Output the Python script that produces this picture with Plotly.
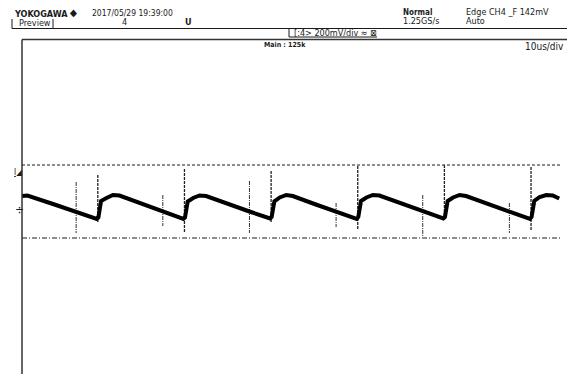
import plotly.graph_objects as go

# ---- data (time in us, voltage in mV) ----
trace_t = [0.0, 0.5, 3.0, 5.0, 6.9, 7.05, 7.3, 7.8, 8.4, 9.0, 11.0, 13.0, 14.9, 15.05, 15.3, 15.8, 16.4, 17.0,
           19.0, 21.0, 22.9, 23.05, 23.3, 23.8, 24.4, 25.0, 27.0, 29.0, 30.9, 31.05, 31.3, 31.8, 32.4, 33.0,
           35.0, 37.0, 38.9, 39.05, 39.3, 39.8, 40.4, 41.0, 43.0, 45.0, 46.9, 47.05, 47.3, 47.8, 48.4, 49.0, 49.6]
trace_v = [56, 58, 22, -8, -36, -30, 36, 48, 60, 58, 26, -6, -36, -30, 34, 48, 58, 56,
           24, -6, -34, -28, 34, 50, 60, 56, 24, -8, -36, -28, 36, 50, 60, 58,
           26, -6, -34, -28, 36, 50, 60, 56, 24, -8, -36, -28, 36, 52, 60, 58, 46]

big_spike_t = [7.0, 15.0, 23.0, 31.0, 39.0, 47.0]
big_spike_top = [140, 164, 156, 176, 180, 172]
big_spike_bot = [-48, -92, -48, -80, -44, -80]

small_spike_t = [5.0, 13.0, 21.0, 29.0, 37.0, 45.0]
small_spike_top = [112, 60, 116, 28, 60, 28]
small_spike_bot = [-92, -64, -92, -68, -108, -92]

upper_cursor = 180
lower_cursor = -112
cursor_t = [0.0, 49.7]

x_range = [0, 50.32]
y_range = [-656, 680]

W, H = 567, 374
ML, MT = 22, 40
PW, PH = W - ML, H - MT

def px(x):
    return (x - ML) / PW

def py(y):
    return (H - y) / PH

FONT = "Liberation Sans Narrow, DejaVu Sans Condensed, Arial Narrow, sans-serif"
INK = "#1a1a1a"

fig = go.Figure()

def spikes(ts, tops, bots):
    xs, ys = [], []
    for t, a, b in zip(ts, tops, bots):
        xs += [t, t, None]
        ys += [a, b, None]
    return xs, ys

# cursors
fig.add_trace(go.Scatter(x=cursor_t, y=[upper_cursor] * 2, mode="lines",
                         line=dict(color=INK, width=1, dash="3px,2px"), hoverinfo="skip"))
fig.add_trace(go.Scatter(x=cursor_t, y=[lower_cursor] * 2, mode="lines",
                         line=dict(color=INK, width=1, dash="5px,2px,1px,2px"), hoverinfo="skip"))

sx, sy = spikes(small_spike_t, small_spike_top, small_spike_bot)
fig.add_trace(go.Scatter(x=sx, y=sy, mode="lines", line=dict(color="#333", width=1, dash="4px,1px,1px,1px"),
                         hoverinfo="skip"))
bx, by = spikes(big_spike_t, big_spike_top, big_spike_bot)
fig.add_trace(go.Scatter(x=bx, y=by, mode="lines", line=dict(color="#222", width=1.3, dash="3px,1px"),
                         hoverinfo="skip"))

fig.add_trace(go.Scatter(x=trace_t, y=trace_v, mode="lines",
                         line=dict(color="#000", width=4), hoverinfo="skip"))

shapes = [
    dict(type="line", xref="paper", yref="paper", x0=px(12), x1=px(567), y0=py(28.5), y1=py(28.5),
         line=dict(color=INK, width=1)),
    dict(type="line", xref="paper", yref="paper", x0=px(12), x1=px(12), y0=py(19), y1=py(28.5),
         line=dict(color=INK, width=1)),
    dict(type="line", xref="paper", yref="paper", x0=px(53), x1=px(53), y0=py(19), y1=py(28.5),
         line=dict(color=INK, width=1)),
    dict(type="line", xref="paper", yref="paper", x0=px(289), x1=px(289), y0=py(28.5), y1=py(37),
         line=dict(color=INK, width=1)),
    dict(type="line", xref="paper", yref="paper", x0=px(289), x1=px(377), y0=py(37), y1=py(37),
         line=dict(color=INK, width=1)),
    dict(type="line", xref="paper", yref="paper", x0=px(22), x1=px(567), y0=py(39.5), y1=py(39.5),
         line=dict(color="#333", width=1.5)),
    dict(type="line", xref="paper", yref="paper", x0=px(22), x1=px(22), y0=py(39.5), y1=py(374),
         line=dict(color="#333", width=1.5)),
]

def ann(text, x, y, size=9, anchor="left", bold=False):
    if bold:
        text = "<b>" + text + "</b>"
    return dict(text=text, x=px(x), y=py(y), xref="paper", yref="paper", showarrow=False,
                xanchor=anchor, yanchor="middle", font=dict(family=FONT, size=size, color=INK))

annotations = [
    ann("YOKOGAWA", 12, 14, 9, bold=True),
    ann("◆", 68, 13, 10),
    ann("2017/05/29 19:39:00", 90, 13, 8.5),
    ann("Preview", 17, 23, 9),
    ann("4", 120, 22, 9),
    ann("U", 183, 22, 9, bold=True),
    ann("Normal", 401, 12, 8, bold=True),
    ann("1.25GS/s", 401, 21, 9),
    ann("Edge CH4 _F 142mV", 464, 12, 9),
    ann("Auto", 464, 21, 9),
    ann("[:4> 200mV/div ≈ ⊠", 292, 33, 9),
    ann("Main : 125k", 262, 45, 7, bold=True),
    ann("10us/div", 566, 46, 10, anchor="right"),
    ann("<u>I</u>◢", 12, 172, 8),
    ann("÷", 13, 210, 12),
]

fig.update_layout(
    width=W, height=H,
    margin=dict(l=ML, r=0, t=MT, b=0),
    paper_bgcolor="white", plot_bgcolor="white",
    showlegend=False,
    xaxis=dict(range=x_range, visible=False, fixedrange=True),
    yaxis=dict(range=y_range, visible=False, fixedrange=True),
    shapes=shapes, annotations=annotations,
)

fig.write_html("out.html", config={"displayModeBar": False})
